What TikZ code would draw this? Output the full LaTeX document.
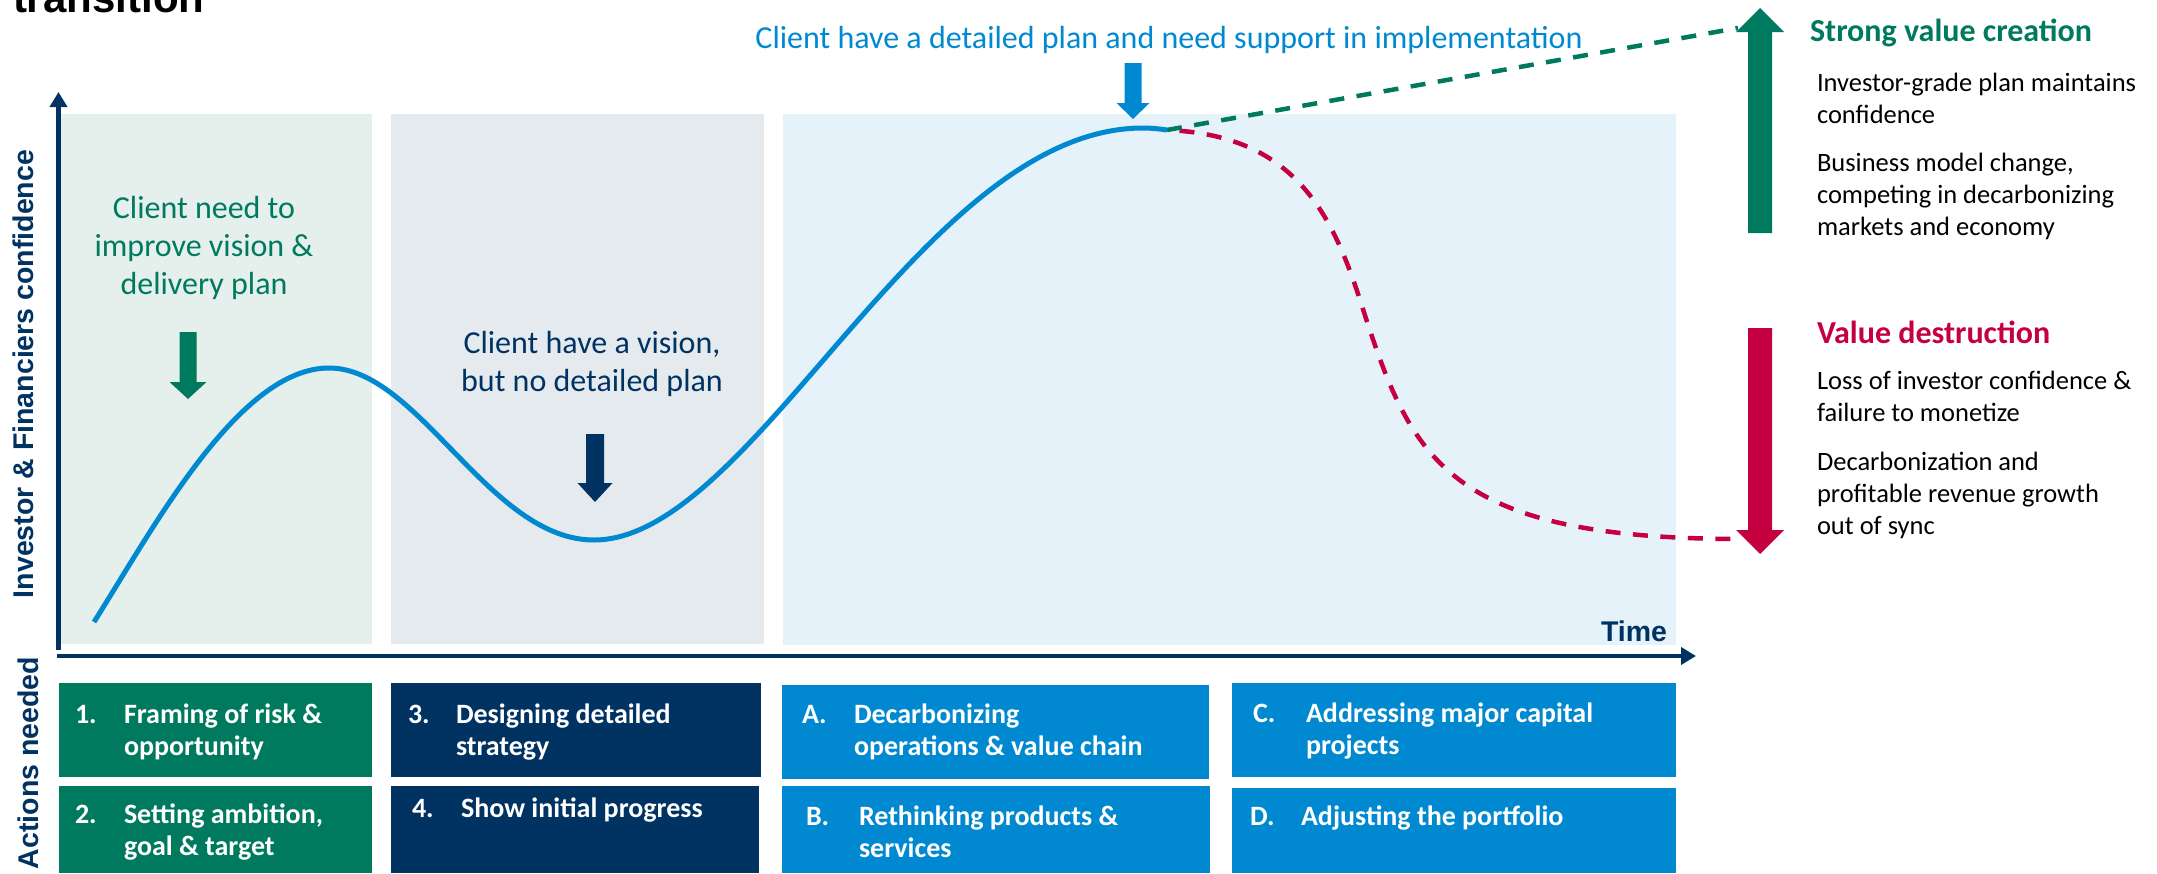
\documentclass[tikz,border=0pt]{standalone}
\usepackage{fontspec}
\setmainfont{Carlito}
\newfontfamily\arialf{Liberation Sans}
\usetikzlibrary{arrows.meta}
\definecolor{cgreen}{RGB}{0,122,94}
\definecolor{cnavy}{RGB}{0,50,98}
\definecolor{cblue}{RGB}{0,137,208}
\definecolor{cred}{RGB}{196,0,64}
\definecolor{panelA}{RGB}{229,239,236}
\definecolor{panelB}{RGB}{229,234,238}
\definecolor{panelC}{RGB}{229,242,250}
\newcommand{\ml}[2]{\begin{tabular}[t]{@{}#1@{}}#2\end{tabular}}
\newcommand{\barrow}[7]{%
  \fill[#1] ({#2-#6},#3) -- ({#2+#6},#3) -- ({#2+#6},#4) -- ({#2+#7},#4) -- (#2,#5) -- ({#2-#7},#4) -- ({#2-#6},#4) -- cycle;}
\tikzset{
  txt/.style={inner sep=0pt, outer sep=0pt},
  bigtxt/.style={txt, font=\fontsize{32}{38}\selectfont},
  headtxt/.style={txt, anchor=base west, font=\fontsize{32}{38}\selectfont\bfseries},
  bodytxt/.style={txt, anchor=base west, text=black, font=\fontsize{26.5}{32}\selectfont},
  acttxt/.style={txt, anchor=base west, text=white, font=\fontsize{28}{32.5}\selectfont\bfseries},
  axislbl/.style={txt, text=cnavy, font=\arialf\bfseries\fontsize{28.5}{34}\selectfont},
  axisline/.style={draw=cnavy, line width=4.5pt, -{Triangle[width=17pt,length=15pt]}},
  curveline/.style={draw=cblue, line width=5pt},
  gdash/.style={draw=cgreen, line width=4.5pt, dash pattern=on 15pt off 12.5pt},
  rdash/.style={draw=cred, line width=4.5pt, dash pattern=on 15pt off 12.5pt, dash phase=15pt},
}
\begin{document}
\begin{tikzpicture}[x=1pt,y=-1pt]
\useasboundingbox (0,0) rectangle (2157,873);
% title (clipped at top)
\node[txt, anchor=base west, font=\arialf\bfseries\fontsize{42}{50}\selectfont] (title) at (13,12) {transition};
% panels
\fill[panelA] (61,114) rectangle (372,644);
\fill[panelB] (391,114) rectangle (764,644);
\fill[panelC] (783,114) rectangle (1676,645);
% axes
\coordinate (yb) at (58.5,650);
\coordinate (yt) at (58.5,92);
\coordinate (xl) at (56.5,656);
\coordinate (xr) at (1696,656);
\draw[axisline] (yb) -- (yt);
\draw[axisline] (xl) -- (xr);
% curve points
\coordinate (c0) at (94,622);
\coordinate (c1) at (329,368);
\coordinate (c2) at (594,540);
\coordinate (c3) at (1143,128);
\coordinate (c4) at (1167,130);
\coordinate (rMid) at (1360,300);
\coordinate (rEnd) at (1742,539);
\coordinate (gEnd) at (1738,28);
% scenarios
\draw[rdash] (c4) .. controls (1290,135) and (1330,207) .. (rMid) .. controls (1410,455) and (1440,539) .. (rEnd);
\draw[gdash] (c4) -- (gEnd);
\draw[curveline] (c0) .. controls (154,527) and (239,368) .. (c1) .. controls (419,368) and (489,540) .. (c2) .. controls (754,540) and (923,128) .. (c3) .. controls (1152,128) and (1160,129) .. (c4);
% block arrows
\barrow{cgreen}{188}{332}{382}{399}{8.5}{18.5}
\barrow{cnavy}{595}{434}{483}{502}{9}{17.5}
\barrow{cblue}{1133}{63}{103}{119}{8.5}{16.5}
\barrow{cgreen}{1760}{233}{32}{8}{12}{24}
\barrow{cred}{1760}{328}{530}{554}{12}{24}
% chart texts
\node[bigtxt, anchor=base, text=cblue] (tTop) at (1169,48) {Client have a detailed plan and need support in implementation};
\node[bigtxt, anchor=base, text=cgreen] (tNeed) at (204,218) {\ml{c}{Client need to\\improve vision \&\\delivery plan}};
\node[bigtxt, anchor=base, text=cnavy] (tVision) at (592,353) {\ml{c}{Client have a vision,\\but no detailed plan}};
% right side
\node[headtxt, text=cgreen] (hUp) at (1810,41) {Strong value creation};
\node[bodytxt] (u1) at (1817,91) {\ml{l}{Investor-grade plan maintains\\confidence}};
\node[bodytxt] (u2) at (1817,171) {\ml{l}{Business model change,\\competing in decarbonizing\\markets and economy}};
\node[headtxt, text=cred] (hDown) at (1817,343) {Value destruction};
\node[bodytxt] (d1) at (1817,389) {\ml{l}{Loss of investor confidence \&\\failure to monetize}};
\node[bodytxt] (d2) at (1817,470) {\ml{l}{Decarbonization and\\profitable revenue growth\\out of sync}};
% axis labels
\node[axislbl, rotate=90, anchor=base] (ylab) at (33,374) {Investor \& Financiers confidence};
\node[axislbl, rotate=90, anchor=base] (alab) at (38,763) {Actions needed};
\node[axislbl, anchor=base east] (time) at (1667,641) {Time};
% action boxes
\fill[cgreen] (59,683) rectangle (372,777);
\fill[cgreen] (59,786) rectangle (372,873);
\fill[cnavy] (391,683) rectangle (761,777);
\fill[cnavy] (391,786) rectangle (759,873);
\fill[cblue] (782,685) rectangle (1209,779);
\fill[cblue] (782,786) rectangle (1210,873);
\fill[cblue] (1232,683) rectangle (1676,777);
\fill[cblue] (1232,788) rectangle (1676,873);
\node[acttxt] (l1) at (75,723) {1.};
\node[acttxt] (t1) at (124,723) {\ml{l}{Framing of risk \&\\opportunity}};
\node[acttxt] (l2) at (75,823) {2.};
\node[acttxt] (t2) at (124,823) {\ml{l}{Setting ambition,\\goal \& target}};
\node[acttxt] (l3) at (408,723) {3.};
\node[acttxt] (t3) at (456,723) {\ml{l}{Designing detailed\\strategy}};
\node[acttxt] (l4) at (412,817) {4.};
\node[acttxt] (t4) at (461,817) {Show initial progress};
\node[acttxt] (lA) at (802,723) {A.};
\node[acttxt] (tA) at (854,723) {\ml{l}{Decarbonizing\\operations \& value chain}};
\node[acttxt] (lB) at (806,825) {B.};
\node[acttxt] (tB) at (859,825) {\ml{l}{Rethinking products \&\\services}};
\node[acttxt] (lC) at (1253,722) {C.};
\node[acttxt] (tC) at (1306,722) {\ml{l}{Addressing major capital\\projects}};
\node[acttxt] (lD) at (1250,825) {D.};
\node[acttxt] (tD) at (1301,825) {Adjusting the portfolio};
\end{tikzpicture}
\end{document}
